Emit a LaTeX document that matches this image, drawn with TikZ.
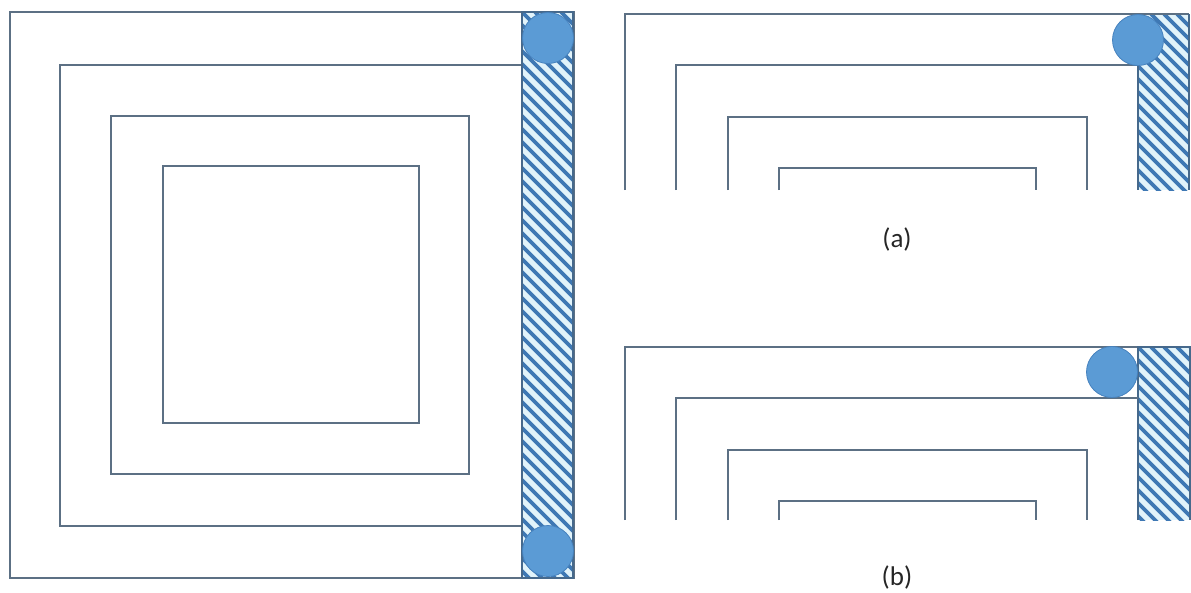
\documentclass[tikz,border=0pt]{standalone}
\usepackage{fontspec}
\setmainfont{Carlito}
\definecolor{wire}{RGB}{92,112,132}
\definecolor{stripe}{RGB}{62,120,180}
\definecolor{stripebg}{RGB}{225,243,250}
\definecolor{ballfill}{RGB}{91,155,213}
\definecolor{ballline}{RGB}{70,130,190}
\definecolor{edge}{RGB}{70,105,140}
\tikzset{
  wireline/.style={draw=wire, line width=1.3pt},
  stripline/.style={draw=stripe, line width=3.6pt},
  stripedge/.style={draw=edge, line width=1.8pt},
  ball/.style={circle, fill=ballfill, draw=ballline, line width=0.8pt, minimum size=51pt, inner sep=0pt},
  lab/.style={font=\fontsize{27}{31}\selectfont, text=black!85}
}
\newcommand{\hatchbox}[4]{% x0 y0 x1 y1
  \begin{scope}
    \clip (#1,#2) rectangle (#3,#4);
    \fill[stripebg] (#1,#2) rectangle (#3,#4);
    \foreach \i in {-624,-611,...,80} {
      \draw[stripline] (#1+\i,#2) -- ++(640,640);
    }
  \end{scope}}
\begin{document}
\begin{tikzpicture}[x=1pt,y=-1pt]
\useasboundingbox (0,0) rectangle (1191,592);
\fill[white] (0,0) rectangle (1191,592);
% ---------- left figure ----------
\hatchbox{522}{12}{574}{578}
\draw[wireline] (10,12) rectangle (574,578);
\draw[wireline] (60,65) rectangle (522,526);
\draw[wireline] (111,116) rectangle (469,474);
\draw[wireline] (163,166) rectangle (419,423);
\draw[stripedge] (522,12) rectangle (573,578);
\node[ball] (c1) at (548,38) {};
\node[ball] (c2) at (548,551) {};
% ---------- (a) ----------
\hatchbox{1138}{14}{1189}{190}
\draw[wireline] (625,190) -- (625,14) -- (1189,14);
\draw[stripedge] (1189,14) -- (1189,190);
\draw[wireline] (676,190) -- (676,65) -- (1138,65);
\draw[stripedge] (1138,65) -- (1138,190);
\draw[wireline] (728,190) -- (728,117) -- (1087,117) -- (1087,190);
\draw[wireline] (779,190) -- (779,168) -- (1036,168) -- (1036,190);
\node[ball] (c3) at (1138,40) {};
\node[lab] (la) at (897,239) {(a)};
% ---------- (b) ----------
\hatchbox{1138}{347}{1190}{520}
\draw[wireline] (625,520) -- (625,347) -- (1138,347);
\draw[stripedge] (1138,520) -- (1138,347) -- (1190,347) -- (1190,520);
\draw[wireline] (676,520) -- (676,398) -- (1138,398);
\draw[wireline] (728,520) -- (728,450) -- (1087,450) -- (1087,520);
\draw[wireline] (779,520) -- (779,501) -- (1036,501) -- (1036,520);
\node[ball] (c4) at (1112,372) {};
\node[lab] (lb) at (897,577) {(b)};
\end{tikzpicture}
\end{document}
